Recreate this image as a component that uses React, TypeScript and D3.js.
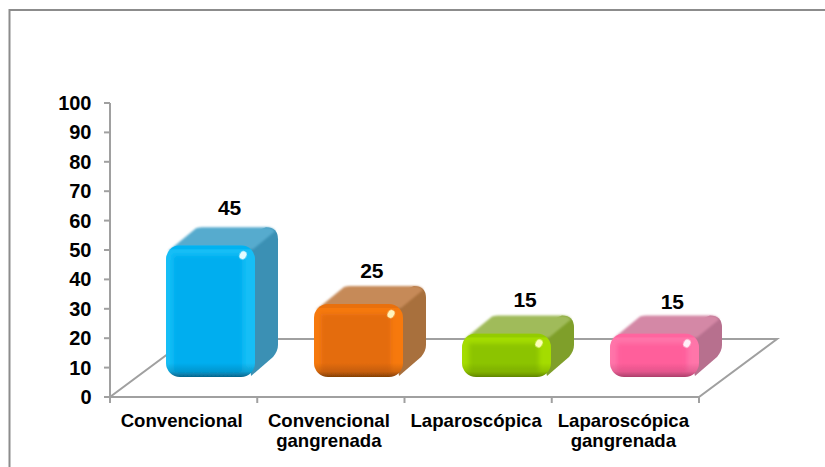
import React from "react";
import * as d3 from "d3";

const categories = [["Convencional"], ["Convencional", "gangrenada"], ["Laparoscópica"], ["Laparoscópica", "gangrenada"]];
const values = [45, 25, 15, 15];
const yTicks = d3.range(0, 101, 10);
const palettes = [
  { front: "#00aeef", light: "#14bef6", dark: "#045f86", side: "#3a90b4", top: "#56abce", spec: "#e4fbff" },
  { front: "#e46c0a", light: "#f6790f", dark: "#7d3c05", side: "#a86f3c", top: "#c68a58", spec: "#fff4bc" },
  { front: "#8cc400", light: "#a4dc00", dark: "#5c8000", side: "#7f9f2a", top: "#a0bb5a", spec: "#fdffb8" },
  { front: "#ff5f9b", light: "#ff74a9", dark: "#a83a66", side: "#b76f8e", top: "#d488a6", spec: "#fff0f8" },
];

const W = 825;
const H = 467;
const y = d3.scaleLinear().domain([0, 100]).range([397, 103]);
const x = d3.scaleBand<number>().domain(d3.range(4)).range([110, 699]);
// Bars stand further back on the floor, so they run on their own slightly wider band.
const barX = d3.scaleBand<number>().domain(d3.range(4)).range([136.5, 728.5]);
const depth = { dx: 78, dy: -58 };
const barDepth = { dx: 23, dy: -18 };
const barW = 89;
const barBase = 377;
const r = 14;
// Per-label nudges for the value captions, which float at slightly uneven heights.
const captionDx = [-1, -6, 0, 0];
const captionDy = [1, 5, 5, 7];

function Bar({ i, value }: { i: number; value: number }) {
  const p = palettes[i];
  const cx = barX(i)! + barX.bandwidth() / 2;
  const x0 = cx - barW / 2;
  const x1 = cx + barW / 2;
  const h = y(0) - y(value) - 0.5;
  const top = barBase - h;
  const { dx, dy } = barDepth;
  const backX1 = x1 + dx;
  const backTop = top + dy;
  const sidePath = [
    `M${x1 - 14},${top + 2}`,
    `L${x1 + 6},${backTop + 2}`,
    `L${backX1 - 12},${backTop}`,
    `Q${backX1},${backTop} ${backX1},${backTop + 12}`,
    `L${backX1},${barBase + dy - 14}`,
    `Q${backX1},${barBase + dy - 8} ${backX1 - 5},${barBase + dy - 2}`,
    `L${x1 - 4},${barBase - 1}`,
    "Z",
  ].join(" ");
  const topPath = [
    `M${x0 + 2},${top + 6}`,
    `L${x0 + 30},${backTop + 1}`,
    `Q${x0 + 33},${backTop} ${x0 + 36},${backTop}`,
    `L${backX1 - 12},${backTop}`,
    `Q${backX1 - 5},${backTop} ${backX1 - 3},${backTop + 4}`,
    `L${x1 - 2},${top + 4}`,
    "Z",
  ].join(" ");
  return (
    <g>
      <path d={sidePath} fill={p.side} filter="url(#soft)" />
      <path d={topPath} fill={p.top} filter="url(#softer)" />
      <g clipPath={`url(#clip${i})`} filter="url(#soft)">
        <rect x={x0} y={top} width={barW} height={h} fill={p.light} />
        <rect x={x0 + 7} y={top + 10} width={barW - 19} height={h - 14} fill={p.front} filter="url(#glow)" />
        <rect x={x0} y={barBase - 14} width={barW} height={14} fill={`url(#foot${i})`} />
        <rect x={x0} y={top} width={barW} height={4} fill={p.front} opacity={0.7} />
      </g>
      <ellipse cx={x1 - 12} cy={top + 10} rx={3.4} ry={4.2} fill={p.spec} filter="url(#spec)" transform={`rotate(30 ${x1 - 12} ${top + 10})`} />
    </g>
  );
}

export default function App() {
  return (
    <svg
      width={W}
      height={H}
      viewBox={`0 0 ${W} ${H}`}
      style={{ position: "fixed", left: 0, top: 0, background: "#fff" }}
      fontFamily="'Liberation Sans', Arial, sans-serif"
    >
      <defs>
        <filter id="soft" x="-10%" y="-10%" width="120%" height="120%">
          <feGaussianBlur stdDeviation="0.6" />
        </filter>
        <filter id="softer" x="-10%" y="-10%" width="120%" height="120%">
          <feGaussianBlur stdDeviation="1" />
        </filter>
        <filter id="glow" x="-20%" y="-20%" width="140%" height="140%">
          <feGaussianBlur stdDeviation="2.2" />
        </filter>
        <filter id="spec" x="-100%" y="-100%" width="300%" height="300%">
          <feGaussianBlur stdDeviation="0.6" />
        </filter>
        {palettes.map((p, i) => {
          const cx = barX(i)! + barX.bandwidth() / 2;
          const h = y(0) - y(values[i]) - 0.5;
          return (
            <React.Fragment key={i}>
              <clipPath id={`clip${i}`}>
                <rect x={cx - barW / 2} y={barBase - h} width={barW} height={h} rx={r} />
              </clipPath>
              <linearGradient id={`foot${i}`} x1="0" y1="0" x2="0" y2="1">
                <stop offset="0" stopColor={p.dark} stopOpacity="0" />
                <stop offset="0.6" stopColor={p.dark} stopOpacity="0.3" />
                <stop offset="1" stopColor={p.dark} stopOpacity="0.95" />
              </linearGradient>
            </React.Fragment>
          );
        })}
      </defs>

      {/* open-ended outer frame: top and left edges only */}
      <path d={`M${W},10 L9.5,10 L9.5,${H}`} fill="none" stroke="#8c8c8c" strokeWidth={2} />

      {/* floor and axes */}
      <g stroke="#a0a0a0" strokeWidth={2} fill="none">
        <path d={`M${x.range()[0]},${y(0)} L${x.range()[1]},${y(0)} L${x.range()[1] + depth.dx},${y(0) + depth.dy} L${x.range()[0] + depth.dx},${y(0) + depth.dy} Z`} />
        <path d={`M${x.range()[0]},${y(100)} L${x.range()[0]},${y(0)}`} />
        {yTicks.map((t) => (
          <line key={t} x1={x.range()[0] - 6} x2={x.range()[0]} y1={y(t)} y2={y(t)} />
        ))}
        {d3.range(5).map((k) => {
          const tx = x.range()[0] + k * x.bandwidth();
          return <line key={k} x1={tx} x2={tx} y1={y(0)} y2={y(0) + 6} />;
        })}
      </g>

      {values.map((v, i) => (
        <Bar key={i} i={i} value={v} />
      ))}

      <g fontWeight="bold" fontSize={20} fill="#000" textAnchor="end">
        {yTicks.map((t) => (
          <text key={t} x={91.5} y={y(t) + 7}>
            {t}
          </text>
        ))}
      </g>

      <g fontWeight="bold" fontSize={21} fill="#000" textAnchor="middle">
        {values.map((v, i) => {
          const cx = x(i)! + x.bandwidth() / 2 + 47 + captionDx[i];
          return (
            <text key={i} x={cx} y={barBase - (y(0) - y(v)) - 31 + captionDy[i]}>
              {v}
            </text>
          );
        })}
      </g>

      <g fontWeight="bold" fontSize={18.6} fill="#000" textAnchor="middle">
        {categories.map((lines, i) =>
          lines.map((l, j) => (
            <text key={l} x={x(i)! + x.bandwidth() / 2 - 2} y={426.5 + j * 20}>
              {l}
            </text>
          )),
        )}
      </g>
    </svg>
  );
}
